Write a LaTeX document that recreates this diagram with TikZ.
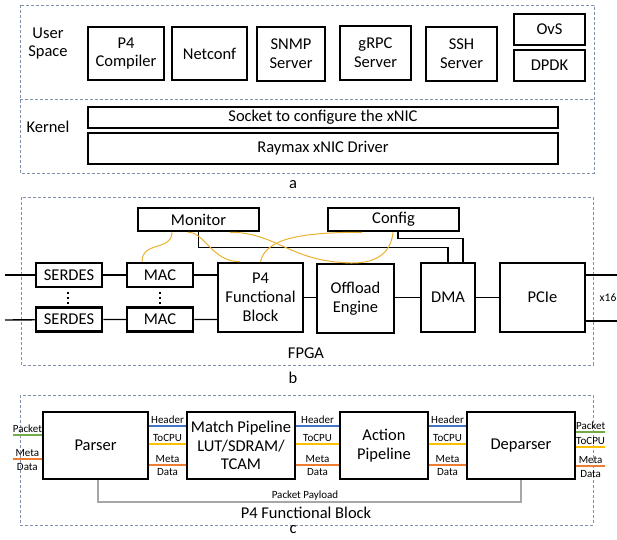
\documentclass[tikz,border=0pt]{standalone}
\usepackage{fontspec}
\setmainfont{Carlito}
\definecolor{zonegray}{RGB}{128,145,172}
\definecolor{ctlgold}{RGB}{232,178,44}
\definecolor{hdrblue}{RGB}{68,114,196}
\definecolor{cpuyellow}{RGB}{255,192,0}
\definecolor{metaorange}{RGB}{237,125,49}
\definecolor{pktgreen}{RGB}{112,173,71}
\definecolor{paygray}{RGB}{166,166,166}
\tikzset{
  blk/.style={draw, line width=2.5pt, inner sep=0pt, align=center,
    font=\fontsize{16.5}{18.8}\selectfont},
  lbl/.style={align=center, inner sep=0pt, font=\fontsize{16.5}{18.8}\selectfont},
  zone/.style={draw=zonegray, line width=0.8pt, dash pattern=on 3pt off 2pt},
  wire/.style={line width=1.4pt},
  ctl/.style={ctlgold, line width=1pt},
  sig/.style={line width=2pt},
  sigtxt/.style={black, inner sep=1pt, font=\fontsize{11}{12.5}\selectfont},
}
\begin{document}
\begin{tikzpicture}[x=1pt, y=-1pt]
  \useasboundingbox (0,0) rectangle (617,539);

  % a : host side
  \draw[zone] (20,5) rectangle (594,173);
  \draw[zone] (20,99) -- (594,99);
  \node[lbl] (user) at (48,43.5) {User\\Space};
  \node[lbl] (kern) at (48,127) {Kernel};
  \node[blk, minimum width=76pt, minimum height=53pt] (p4c) at (126,53.5) {P4\\Compiler};
  \node[blk, minimum width=75pt, minimum height=53pt] (netconf) at (209.5,53.5) {Netconf};
  \node[blk, minimum width=68pt, minimum height=54pt] (snmp) at (291,54) {SNMP\\Server};
  \node[blk, minimum width=71pt, minimum height=54pt] (grpc) at (375.5,53) {gRPC\\Server};
  \node[blk, minimum width=71pt, minimum height=54pt] (ssh) at (461.5,54) {SSH\\Server};
  \node[blk, minimum width=71pt, minimum height=31pt] (ovs) at (549.5,29.5) {OvS};
  \node[blk, minimum width=71pt, minimum height=31pt] (dpdk) at (549.5,65.5) {DPDK};
  \node[blk, minimum width=470pt, minimum height=21pt] (socket) at (323,117.5) {Socket to configure the xNIC};
  \node[blk, minimum width=470pt, minimum height=31pt] (driver) at (323,148.5) {Raymax xNIC Driver};
  \node[lbl] (capa) at (293,185) {a};

  % b : FPGA
  \draw[zone] (21,197) rectangle (593,365);
  \node[blk, minimum width=121pt, minimum height=23pt] (mon) at (198.5,219.5) {Monitor};
  \node[blk, minimum width=131pt, minimum height=23pt] (cfg) at (393.5,219.5) {Config};
  \node[blk, minimum width=66pt, minimum height=24pt] (serA) at (69,275) {SERDES};
  \node[blk, minimum width=66pt, minimum height=24pt] (serB) at (69,319.5) {SERDES};
  \node[blk, minimum width=66pt, minimum height=24pt] (macA) at (160,275) {MAC};
  \node[blk, minimum width=66pt, minimum height=24pt] (macB) at (160,319.5) {MAC};
  \node[blk, minimum width=85pt, minimum height=69pt] (p4fb) at (260.5,297.5) {P4\\Functional\\Block};
  \node[blk, minimum width=77pt, minimum height=69pt] (offl) at (355.5,298.5) {Offload\\Engine};
  \node[blk, minimum width=54pt, minimum height=69pt] (dma) at (448,297.5) {DMA};
  \node[blk, minimum width=85pt, minimum height=69pt] (pcie) at (542.5,297.5) {PCIe};
  \node[sigtxt, font=\fontsize{11.5}{13}\selectfont] (lanes) at (608,298) {x16};
  \node[lbl] (fpga) at (306,353) {FPGA};
  \node[lbl] (capb) at (293,378) {b};

  % lignes de donnees
  \coordinate (inA) at (5,275);
  \coordinate (inB) at (5,320);
  \coordinate (outA) at (617,275);
  \coordinate (outB) at (617,321);
  \draw[wire] (inA) -- (serA) (serA) -- (macA) (macA.east) -- (macA.east -| p4fb.west);
  \draw[wire] (inB) -- (serB) (serB) -- (macB) (macB.east) -- (macB.east -| p4fb.west);
  \draw[wire] (p4fb.east) -- (p4fb.east -| offl.west);
  \draw[wire] (offl.east |- p4fb.east) -- (dma.west |- p4fb.east);
  \draw[wire] (dma) -- (pcie);
  \draw[wire] (pcie.east |- outA) -- (outA);
  \draw[wire] (pcie.east |- outB) -- (outB);
  \foreach \x in {68, 160} {
    \foreach \y in {293, 298, 303} {
      \fill (\x-1.3,\y-1.3) rectangle (\x+1.3,\y+1.3);
    }
  }

  % controle
  \draw[wire] (mon.south) -- ++(0,15) -| (dma.north);
  \draw[wire] ([xshift=4.5pt]cfg.south) -- ++(0,6) -| ([xshift=15pt]dma.north);
  \draw[ctl] ([xshift=-26.5pt]mon.south) .. controls +(0,19) and +(0,-21) .. ([xshift=-18pt]macA.north);
  \draw[ctl] ([xshift=-10.5pt]mon.south) .. controls +(17,0) and +(-28,0) .. ([xshift=-20.5pt]p4fb.north);
  \draw[ctl] ([xshift=31.5pt]mon.south) .. controls +(45,0) and +(-57,-2) .. ([xshift=-8.5pt]offl.north);
  \draw[ctl] (p4fb.north) .. controls +(5,-23) and +(-62,0) .. ([xshift=-31.5pt]cfg.south);
  \draw[ctl] ([xshift=-0.5pt]cfg.south) .. controls +(-3,31) and +(15,1) .. ([xshift=-10.5pt]offl.north);

  % c : P4 Functional Block
  \draw[zone] (20,395) rectangle (593,525);
  \node[blk, minimum width=105pt, minimum height=67pt] (parser) at (95.5,445.5) {Parser};
  \node[blk, minimum width=108pt, minimum height=67pt] (match) at (241,445.5) {Match Pipeline\\LUT/SDRAM/\\TCAM};
  \node[blk, minimum width=88pt, minimum height=67pt] (action) at (384,445.5) {Action\\Pipeline};
  \node[blk, minimum width=108pt, minimum height=67pt] (deparser) at (521,445.5) {Deparser};

  % entrees
  \coordinate (pktin) at (13,435);
  \coordinate (metain) at (13,459);
  \draw[sig, pktgreen] (pktin) -- (pktin -| parser.west) node[midway, above, sigtxt] (pktinl) {Packet};
  \draw[sig, metaorange] (metain) -- (metain -| parser.west)
    node[midway, above, sigtxt] (metainl) {Meta}
    node[midway, below, sigtxt, inner sep=3pt] (datainl) {Data};

  % entre les blocs
  \coordinate (hdry) at (0,426);
  \coordinate (cpuy) at (0,444);
  \coordinate (metay) at (0,464.5);
  \foreach \l/\r in {parser/match, match/action, action/deparser} {
    \draw[sig, hdrblue] (\l.east |- hdry) -- (\r.west |- hdry) node[midway, above, sigtxt] {Header};
    \draw[sig, cpuyellow] (\l.east |- cpuy) -- (\r.west |- cpuy) node[midway, above, sigtxt] {ToCPU};
    \draw[sig, metaorange] (\l.east |- metay) -- (\r.west |- metay)
      node[midway, above, sigtxt] {Meta}
      node[midway, below, sigtxt, inner sep=3pt] {Data};
  }

  % sorties
  \coordinate (pktout) at (605,432);
  \coordinate (cpuout) at (605,447);
  \coordinate (metaout) at (605,466);
  \draw[sig, pktgreen] (deparser.east |- pktout) -- (pktout) node[midway, above, sigtxt] (pktoutl) {Packet};
  \draw[sig, cpuyellow] (deparser.east |- cpuout) -- (cpuout) node[midway, above, sigtxt] (cpuoutl) {ToCPU};
  \draw[sig, metaorange] (deparser.east |- metaout) -- (metaout)
    node[midway, above, sigtxt] (metaoutl) {Meta}
    node[midway, below, sigtxt, inner sep=3pt] (dataoutl) {Data};

  % charge utile
  \draw[sig, paygray] ([xshift=2pt]parser.south) -- ++(0,22) -| (deparser.south)
    node[pos=0.245, above, sigtxt] (payl) {Packet Payload};
  \node[lbl] (p4title) at (306,513) {P4 Functional Block};
  \node[lbl] (capc) at (293,530) {c};
\end{tikzpicture}
\end{document}
